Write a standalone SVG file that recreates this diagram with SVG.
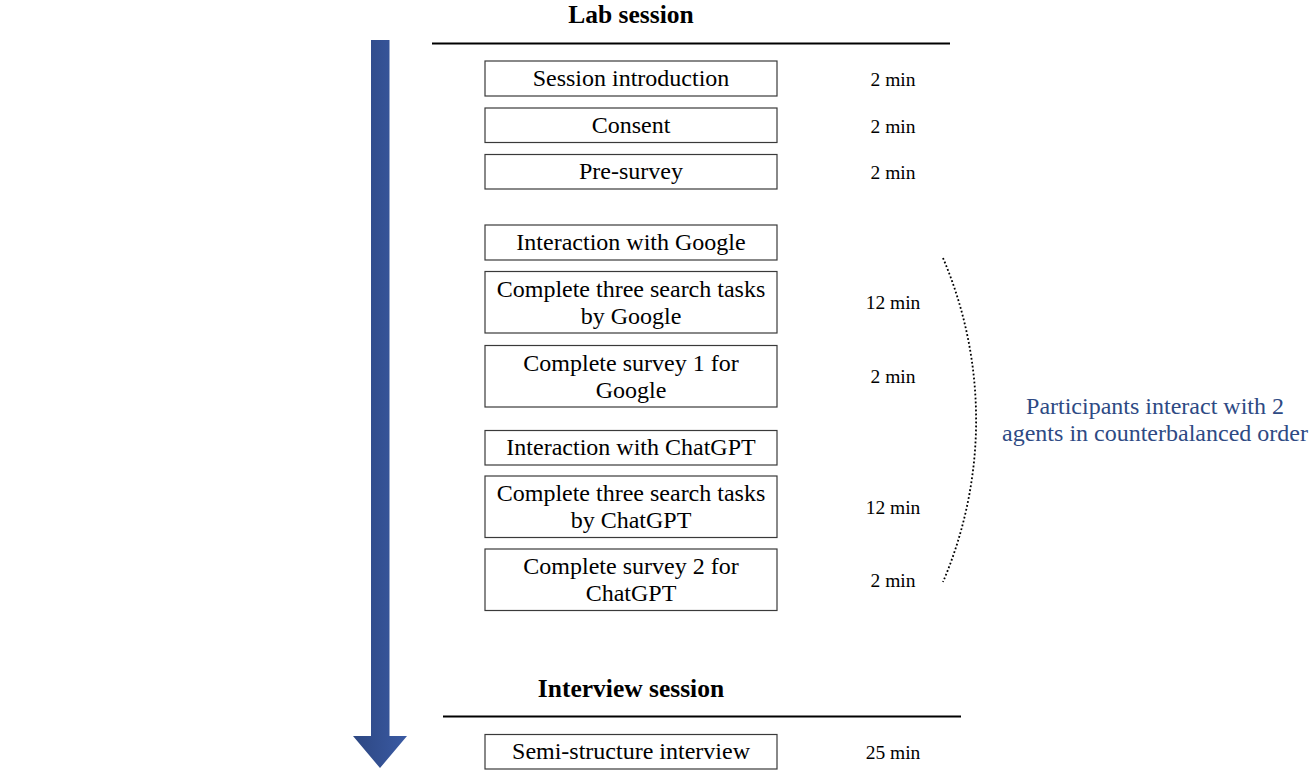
<svg xmlns="http://www.w3.org/2000/svg" width="1313" height="784" viewBox="0 0 1313 784">
<defs>
<linearGradient id="arrowGrad" x1="0" y1="0" x2="1" y2="0">
<stop offset="0" stop-color="#2D4782"/>
<stop offset="1" stop-color="#3A5AA3"/>
</linearGradient>
<style>
.box{fill:#ffffff;stroke:#3a3a3a;stroke-width:1.2}
.bt{font-family:"Liberation Serif","Times New Roman",serif;font-size:24px;fill:#000;text-anchor:middle}
.tm{font-family:"Liberation Serif","Times New Roman",serif;font-size:19.5px;fill:#000;text-anchor:middle}
.title{font-family:"Liberation Serif","Times New Roman",serif;font-size:25.5px;font-weight:bold;fill:#000;text-anchor:middle}
.rule{stroke:#000;stroke-width:2}
.note{font-family:"Liberation Serif","Times New Roman",serif;font-size:24px;fill:#2E4A84;text-anchor:middle}
</style>
</defs>
<rect width="1313" height="784" fill="#ffffff"/>

<g id="timeline-arrow">
<polygon points="371,40 389.5,40 389.5,736 407,736 380,768 353,736 371,736" fill="url(#arrowGrad)"/>
</g>

<g id="lab-header">
<text class="title" x="631" y="22.5">Lab session</text>
<line class="rule" x1="432" y1="43.5" x2="950" y2="43.5"/>
</g>

<g id="n1"><rect class="box" x="485" y="61" width="292" height="35"/><text class="bt" x="631" y="86">Session introduction</text><text class="tm" x="893" y="86">2 min</text></g>
<g id="n2"><rect class="box" x="485" y="108" width="292" height="34.5"/><text class="bt" x="631" y="132.5">Consent</text><text class="tm" x="893" y="132.5">2 min</text></g>
<g id="n3"><rect class="box" x="485" y="154.5" width="292" height="34.5"/><text class="bt" x="631" y="178.5">Pre-survey</text><text class="tm" x="893" y="178.5">2 min</text></g>

<g id="n4"><rect class="box" x="485" y="225" width="292" height="35"/><text class="bt" x="631" y="250">Interaction with Google</text></g>
<g id="n5"><rect class="box" x="485" y="271.5" width="292" height="61.5"/><text class="bt" x="631" y="296.5">Complete three search tasks</text><text class="bt" x="631" y="323.5">by Google</text><text class="tm" x="893" y="309">12 min</text></g>
<g id="n6"><rect class="box" x="485" y="345.5" width="292" height="61.5"/><text class="bt" x="631" y="370.5">Complete survey 1 for</text><text class="bt" x="631" y="397.5">Google</text><text class="tm" x="893" y="383">2 min</text></g>

<g id="n7"><rect class="box" x="485" y="430.5" width="292" height="34.5"/><text class="bt" x="631" y="455">Interaction with ChatGPT</text></g>
<g id="n8"><rect class="box" x="485" y="476" width="292" height="61.5"/><text class="bt" x="631" y="501">Complete three search tasks</text><text class="bt" x="631" y="528">by ChatGPT</text><text class="tm" x="893" y="514">12 min</text></g>
<g id="n9"><rect class="box" x="485" y="549" width="292" height="61.5"/><text class="bt" x="631" y="574">Complete survey 2 for</text><text class="bt" x="631" y="601">ChatGPT</text><text class="tm" x="893" y="587">2 min</text></g>

<g id="counterbalance-note">
<text class="note" x="1155" y="414">Participants interact with 2</text>
<text class="note" x="1155" y="441">agents in counterbalanced order</text>
</g>

<g id="connectors">
<path d="M943,258 A413,413 0 0 1 943,582" fill="none" stroke="#000" stroke-width="1.8" stroke-dasharray="1.8 2.2"/>
</g>

<g id="interview-header">
<text class="title" x="631" y="697">Interview session</text>
<line class="rule" x1="443" y1="716.5" x2="961" y2="716.5"/>
</g>

<g id="n10"><rect class="box" x="485" y="734.5" width="292" height="34.5"/><text class="bt" x="631" y="759">Semi-structure interview</text><text class="tm" x="893" y="759">25 min</text></g>
</svg>
